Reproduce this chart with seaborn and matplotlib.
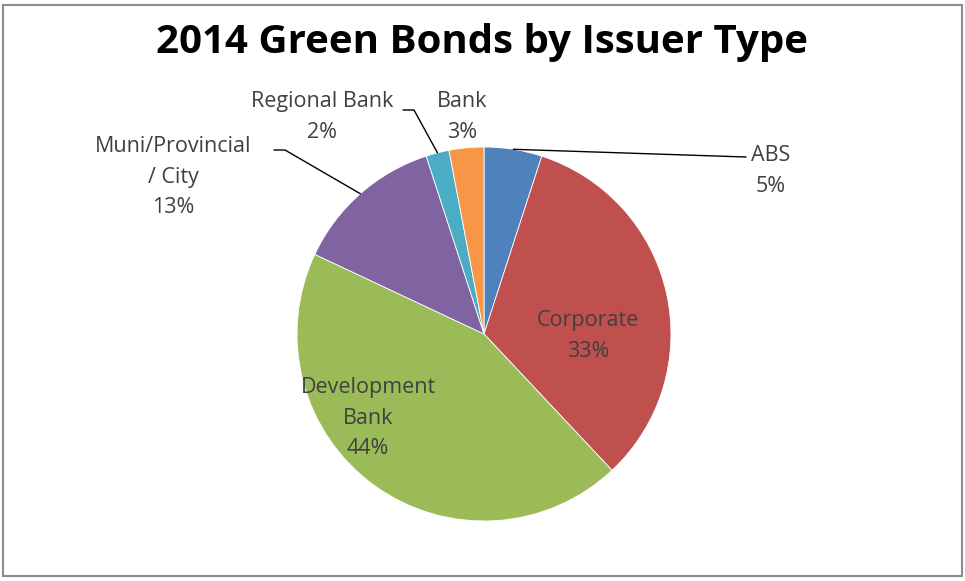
import matplotlib
matplotlib.use("Agg")
import matplotlib.pyplot as plt
import seaborn as sns
import numpy as np
from matplotlib.patches import Rectangle

sns.set_theme(style="white")
plt.rcParams["font.family"] = ["Open Sans", "DejaVu Sans"]

# Share of 2014 green bond issuance by issuer type (clockwise from 12 o'clock)
issuers = ["ABS", "Corporate", "Development\nBank", "Muni/Provincial\n/ City", "Regional Bank", "Bank"]
shares = [5, 33, 44, 13, 2, 3]
colors = ["#4F81BD", "#C0504D", "#9BBB59", "#8064A2", "#4BACC6", "#F79646"]

W, H = 965, 581
fig = plt.figure(figsize=(W / 100, H / 100), dpi=100)
fig.patch.set_facecolor("white")

# pie axes in pixel layout
cx, cy, r = 484, 334, 187
ax = fig.add_axes([(cx - r) / W, (H - cy - r) / H, 2 * r / W, 2 * r / H])
wedges, _ = ax.pie(shares, colors=colors, startangle=90, counterclock=False,
                   radius=1.0, wedgeprops=dict(edgecolor="white", linewidth=0.6))
ax.set_xlim(-1, 1)
ax.set_ylim(-1, 1)
ax.set_aspect("equal")
ax.axis("off")
ax.set_clip_on(False)

def px(x, y):
    """pixel position -> pie data coordinates"""
    return (x - cx) / r, (cy - y) / r

label_color = "#404040"
fs = 15.5

# label placement (pixel centres) and optional leader elbows
layout = {
    "ABS": dict(pos=(771, 171), elbow=[(746, 157)]),
    "Corporate": dict(pos=(588, 336), elbow=None),
    "Development\nBank": dict(pos=(368, 418), elbow=None),
    "Muni/Provincial\n/ City": dict(pos=(173, 177), elbow=[(285, 150), (274, 150)]),
    "Regional Bank": dict(pos=(322, 117), elbow=[(414, 110), (403, 110)]),
    "Bank": dict(pos=(462, 117), elbow=None),
}

for w, name, val in zip(wedges, issuers, shares):
    spec = layout[name]
    tx, ty = px(*spec["pos"])
    ax.text(tx, ty, f"{name}\n{val}%", ha="center", va="center", fontsize=fs,
            color=label_color, linespacing=1.6, clip_on=False)
    if spec["elbow"]:
        ang = np.deg2rad((w.theta1 + w.theta2) / 2)
        xs = [np.cos(ang)] + [px(*p)[0] for p in spec["elbow"]]
        ys = [np.sin(ang)] + [px(*p)[1] for p in spec["elbow"]]
        ax.plot(xs, ys, color="black", linewidth=1.0, clip_on=False)

fig.text(0.5, (H - 43) / H, "2014 Green Bonds by Issuer Type", ha="center", va="center",
         fontsize=29, fontweight="bold", color="black")

# chart frame
fig.patches.append(Rectangle((3 / W, 5 / H), (962 - 3) / W, (576 - 5) / H,
                             transform=fig.transFigure, fill=False,
                             edgecolor="#8c8c8c", linewidth=1.5))

fig.savefig("out.png", dpi=100, facecolor="white")
